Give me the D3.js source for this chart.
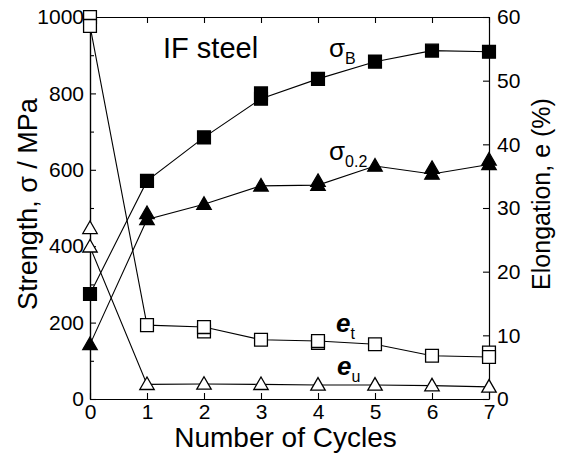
<!DOCTYPE html>
<html>
<head>
<meta charset="utf-8">
<script src="https://cdn.jsdelivr.net/npm/d3@7/dist/d3.min.js"></script>
<style>
  html, body { margin: 0; padding: 0; background: #fff; }
  svg { display: block; font-family: Arial, "Liberation Sans", Helvetica, sans-serif; }
</style>
</head>
<body>
<svg id="chart" width="565" height="461"></svg>
<script>
// Number of ARB cycles
const cycles = [0, 1, 2, 3, 4, 5, 6, 7];

// Strength (MPa), left axis. *Repeat = second specimen where tested twice.
const sigmaB        = [275, 571, 685, 786, 838, 883, 912, 909];
const sigmaBRepeat  = [null, null, null, 800, null, null, null, null];
const sigma02       = [143, 470, 510, 558, 560, 610, 589, 614];
const sigma02Repeat = [null, 486, null, null, 570, null, 604, 626];

// Elongation (%), right axis
const eTotal         = [58.6, 11.6, 11.3, 9.3, 9.1, 8.6, 6.8, 6.6];
const eTotalRepeat   = [60.0, null, 10.6, null, 8.8, null, null, 7.3];
const eUniform       = [23.9, 2.3, 2.35, 2.3, 2.2, 2.2, 2.1, 1.9];
const eUniformRepeat = [26.8, null, null, null, null, null, null, null];

// Tick values
const xTicks       = [0, 1, 2, 3, 4, 5, 6, 7];
const leftTicks    = [0, 200, 400, 600, 800, 1000];
const leftMinor    = [100, 300, 500, 700, 900];
const rightTicks   = [0, 10, 20, 30, 40, 50, 60];

const svg = d3.select("#chart");
const L = 90, R = 489, T = 17, B = 399;

const x  = d3.scaleLinear().domain([0, 7]).range([L, R]);
const yL = d3.scaleLinear().domain([0, 1000]).range([B, T]);
const yR = d3.scaleLinear().domain([0, 60]).range([B, T]);

function styleAxis(g, size) {
  g.selectAll("path.domain").attr("stroke", "#000").attr("stroke-width", 1.2);
  g.selectAll(".tick line").attr("stroke", "#000").attr("stroke-width", 1.1);
  g.selectAll(".tick text").attr("fill", "#000").style("font-size", size + "px")
    .style("font-family", "Arial, 'Liberation Sans', sans-serif");
}

// bottom axis
svg.append("g").attr("transform", `translate(0,${B})`)
  .call(d3.axisBottom(x).tickValues(xTicks).tickFormat(d3.format("d"))
        .tickSizeInner(-6).tickSizeOuter(0).tickPadding(5))
  .call(g => styleAxis(g, 21));

// top axis (ticks only)
svg.append("g").attr("transform", `translate(0,${T})`)
  .call(d3.axisTop(x).tickValues(xTicks).tickFormat("")
        .tickSizeInner(-6).tickSizeOuter(0))
  .call(g => styleAxis(g, 21));

// left axis, major + minor
svg.append("g").attr("transform", `translate(${L},0)`)
  .call(d3.axisLeft(yL).tickValues(leftTicks).tickFormat(d3.format("d"))
        .tickSizeInner(-6).tickSizeOuter(0).tickPadding(6))
  .call(g => styleAxis(g, 21));
svg.append("g").attr("transform", `translate(${L},0)`)
  .call(d3.axisLeft(yL).tickValues(leftMinor).tickFormat("")
        .tickSizeInner(-4).tickSizeOuter(0))
  .call(g => styleAxis(g, 21));

// right axis
svg.append("g").attr("transform", `translate(${R},0)`)
  .call(d3.axisRight(yR).tickValues(rightTicks).tickFormat(d3.format("d"))
        .tickSizeInner(-6).tickSizeOuter(0).tickPadding(8))
  .call(g => styleAxis(g, 21));

// axis titles
svg.append("text")
  .attr("x", (L + R) / 2 - 4).attr("y", 447)
  .attr("text-anchor", "middle").style("font-size", "28px")
  .text("Number of Cycles");

svg.append("text")
  .attr("transform", "translate(37,204) rotate(-90)")
  .attr("text-anchor", "middle").style("font-size", "27px")
  .text("Strength, σ / MPa");

svg.append("text")
  .attr("transform", "translate(550,194) rotate(-90)")
  .attr("text-anchor", "middle").style("font-size", "25px")
  .text("Elongation, e (%)");

// series
const lineL = d3.line().defined(d => d != null).x((d, i) => x(cycles[i])).y(d => yL(d));
const lineR = d3.line().defined(d => d != null).x((d, i) => x(cycles[i])).y(d => yR(d));

const series = [
  { vals: sigmaB,   rep: sigmaBRepeat,   y: yL, line: lineL, shape: "square",   fill: "#000" },
  { vals: sigma02,  rep: sigma02Repeat,  y: yL, line: lineL, shape: "triangle", fill: "#000" },
  { vals: eTotal,   rep: eTotalRepeat,   y: yR, line: lineR, shape: "square",   fill: "#fff" },
  { vals: eUniform, rep: eUniformRepeat, y: yR, line: lineR, shape: "triangle", fill: "#fff" }
];

const sym = {
  square: d3.symbol().type(d3.symbolSquare).size(165),
  triangle: d3.symbol().type(d3.symbolTriangle).size(90)
};

series.forEach(s => {
  svg.append("path")
    .attr("d", s.line(s.vals))
    .attr("fill", "none").attr("stroke", "#000").attr("stroke-width", 1.1);
});

series.forEach(s => {
  const pts = [];
  s.rep.forEach((v, i) => { if (v != null) pts.push([cycles[i], v]); });
  s.vals.forEach((v, i) => pts.push([cycles[i], v]));
  svg.append("g").selectAll("path").data(pts).join("path")
    .attr("d", sym[s.shape])
    .attr("transform", d => `translate(${x(d[0])},${s.y(d[1]) + (s.shape === "triangle" ? 1 : 0)})`)
    .attr("fill", s.fill).attr("stroke", "#000").attr("stroke-width", 1.3);
});

// annotations
svg.append("text").attr("x", 163).attr("y", 58).style("font-size", "29px").text("IF steel");

function sub(xp, yp, main, subscript, italic) {
  const t = svg.append("text").attr("x", xp).attr("y", yp).style("font-size", "26px");
  t.append("tspan").text(main).style("font-style", italic ? "italic" : "normal")
    .style("font-weight", italic ? "bold" : "normal");
  t.append("tspan").attr("dy", 7).style("font-size", "16px").text(subscript);
}
sub(329, 57, "σ", "B", false);
sub(329, 160, "σ", "0.2", false);
sub(336, 332, "e", "t", true);
sub(337, 375, "e", "u", true);
</script>
</body>
</html>
